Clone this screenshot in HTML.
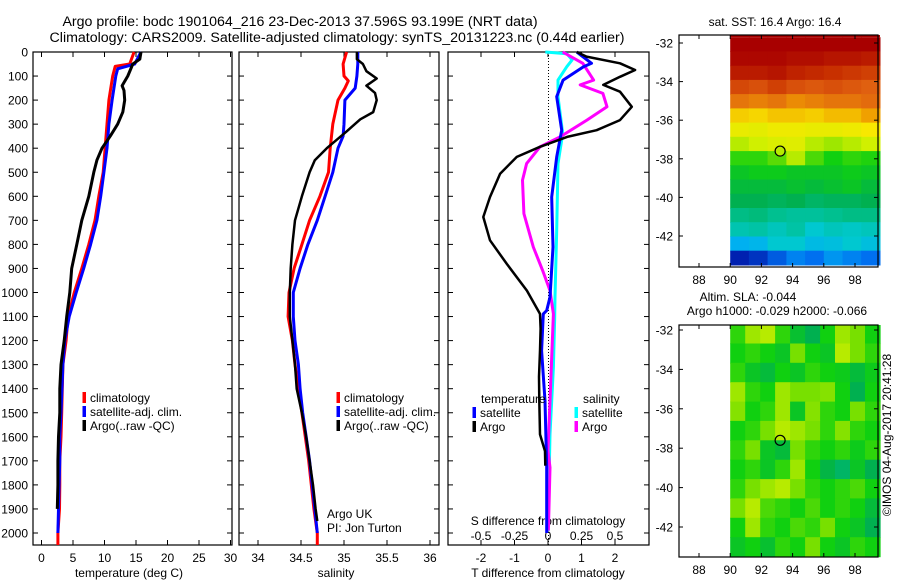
<!DOCTYPE html>
<html><head><meta charset="utf-8">
<style>
html,body{margin:0;padding:0;background:#fff;}
svg{display:block;font-family:"Liberation Sans",sans-serif;}
</style></head>
<body>
<svg id="fig" width="900" height="580" viewBox="0 0 900 580" xmlns="http://www.w3.org/2000/svg"></svg>
<script>
// ---------- data ----------
const depthTicks=[0,100,200,300,400,500,600,700,800,900,1000,1100,1200,1300,1400,1500,1600,1700,1800,1900,2000];
const tempTicks=[0,5,10,15,20,25,30];
const salTicks=[34,34.5,35,35.5,36];
const salTickLabels=["34","34.5","35","35.5","36"];
const tdiffTicks=[-2,-1,0,1,2];
const sdiffTicks=[-0.5,-0.25,0,0.25,0.5];
const sdiffTickLabels=["-0.5","-0.25","0","0.25","0.5"];
const lonTicks=[88,90,92,94,96,98];
const latTicks=[-32,-34,-36,-38,-40,-42];

const climDepth=[0,50,60,100,200,300,400,500,600,700,800,900,1000,1100,1200,1300,1400,1500,1600,1700,1800,1900,2000,2050];
const climTemp=[14.7,14.0,11.7,11.3,10.7,10.4,10.1,9.8,9.1,8.5,7.5,6.4,5.2,4.2,3.9,3.4,3.3,3.2,3.1,2.9,2.9,2.85,2.6,2.6];
const satDepth=[0,50,70,100,200,300,400,500,600,700,800,900,1000,1100,1200,1300,1400,1500,1600,1700,1800,1900,2000];
const satTemp=[15.8,14.8,12.1,11.8,11.2,10.7,10.4,9.9,9.4,8.8,7.8,6.7,5.5,4.4,3.7,3.4,3.25,3.1,2.9,2.9,2.8,2.7,2.6];
const argoTDepth=[0,30,50,100,140,160,200,250,300,350,400,450,500,600,700,800,900,1000,1100,1200,1300,1400,1500,1600,1700,1800,1900];
const argoTemp=[15.8,15.6,14.5,13.7,12.8,13.1,13.2,12.9,12.1,10.9,9.6,8.8,8.3,7.5,6.4,5.6,4.8,4.5,4.0,3.6,3.1,2.9,2.9,2.7,2.6,2.6,2.5];

const climSDepth=[0,50,100,120,150,200,300,400,500,600,700,800,900,1000,1100,1200,1300,1400,1500,1600,1700,1800,1900,2000,2050];
const climSal=[35.03,34.99,35.0,35.05,35.01,34.93,34.87,34.84,34.82,34.72,34.6,34.51,34.42,34.36,34.35,34.4,34.43,34.47,34.51,34.55,34.59,34.62,34.65,34.69,34.69];
const satSDepth=[0,50,100,150,200,300,350,400,500,600,700,800,900,1000,1100,1200,1300,1400,1500,1600,1700,1800,1900,2000];
const satSal=[35.16,35.16,35.15,35.13,35.01,35.0,34.99,34.93,34.87,34.78,34.69,34.58,34.49,34.41,34.41,34.43,34.47,34.49,34.52,34.56,34.6,34.63,34.66,34.69];
const argoSDepth=[0,30,50,80,110,140,170,200,250,280,330,400,450,500,600,700,800,900,1000,1100,1200,1300,1400,1500,1600,1700,1800,1900,1950];
const argoSal=[35.15,35.15,35.22,35.26,35.38,35.26,35.36,35.38,35.34,35.19,35.03,34.8,34.66,34.6,34.51,34.43,34.4,34.38,34.37,34.37,34.4,34.43,34.45,34.51,34.56,34.6,34.64,34.67,34.69];

const dArgoTDepth=[0,19,47,75,103,137,165,228,283,325,353,394,436,506,603,686,783,881,992,1089,1150,1242,1350,1450,1590,1660,1720];
const dArgoT=[0.86,1.15,2.15,2.6,2.15,1.65,2.15,2.5,2.15,1.45,0.57,-0.24,-0.93,-1.43,-1.73,-1.93,-1.73,-1.23,-0.63,-0.24,-0.22,-0.24,-0.27,-0.26,-0.24,-0.09,-0.08];
const dSatTDepth=[0,47,61,117,186,325,436,603,811,1019,1075,1089,1242,1450,1728,2000];
const dSatT=[0.86,1.3,1.06,0.45,0.26,0.41,0.26,0.11,0.15,0.06,-0.04,-0.14,-0.19,-0.09,-0.04,-0.04];
const dArgoSDepth=[0,47,117,137,172,228,283,353,394,464,533,672,811,908,992,1089,1450,1658,1728,1990];
const dArgoS=[0.11,0.26,0.34,0.24,0.41,0.44,0.29,0.09,-0.06,-0.16,-0.19,-0.18,-0.11,-0.04,0.015,0.04,0.015,0.0,0.015,0.003];
const dSatSDepth=[0,7,33,61,117,186,339,464,742,1019,1103,1311,1589,1992];
const dSatS=[-0.02,0.14,0.18,0.14,0.075,0.075,0.11,0.075,0.065,0.052,0.05,0.04,0.015,0.0];

// SST map grid (colour index 0..1), rows north->south, cols 90E->99.6E
const sstGrid=[
[.97,.97,.97,.97,.97,.97,.97,.97],
[.96,.96,.96,.95,.95,.94,.94,.93],
[.93,.93,.94,.92,.91,.9,.89,.88],
[.87,.86,.88,.86,.85,.86,.85,.84],
[.82,.81,.82,.8,.81,.82,.82,.83],
[.73,.72,.74,.74,.73,.75,.75,.78],
[.67,.66,.68,.68,.67,.67,.68,.7],
[.6,.62,.64,.65,.6,.58,.6,.62],
[.5,.5,.53,.6,.52,.48,.5,.49],
[.46,.47,.47,.46,.46,.46,.47,.46],
[.44,.44,.44,.45,.44,.45,.46,.44],
[.42,.42,.41,.42,.4,.41,.41,.42],
[.37,.38,.36,.35,.35,.36,.37,.37],
[.33,.34,.32,.34,.3,.32,.31,.32],
[.25,.26,.3,.3,.27,.28,.3,.28],
[.1,.12,.16,.2,.18,.22,.2,.18]];
// SLA map grid
const slaGrid=[
[.5,.58,.6,.5,.45,.42,.48,.58,.55,.48],
[.48,.5,.48,.46,.55,.48,.46,.6,.55,.5],
[.5,.46,.44,.48,.46,.5,.48,.47,.44,.47],
[.58,.5,.48,.58,.55,.55,.56,.48,.42,.48],
[.56,.48,.5,.58,.46,.56,.5,.48,.55,.5],
[.48,.5,.55,.6,.58,.55,.5,.56,.5,.48],
[.5,.55,.46,.44,.55,.5,.48,.5,.47,.5],
[.48,.5,.46,.5,.58,.48,.43,.4,.46,.42],
[.5,.55,.58,.6,.55,.5,.48,.5,.52,.48],
[.55,.6,.52,.5,.48,.52,.48,.5,.48,.44],
[.48,.58,.5,.48,.52,.5,.55,.48,.46,.42],
[.46,.48,.45,.5,.48,.55,.48,.46,.5,.48]];
const argoLon=93.2, argoLat=-37.6;

// ---------- helpers ----------
const svg=document.getElementById('fig');
const NS='http://www.w3.org/2000/svg';
function mk(tag,attrs,parent){const e=document.createElementNS(NS,tag);for(const k in attrs)e.setAttribute(k,attrs[k]);(parent||svg).appendChild(e);return e;}
function txt(s,x,y,anchor,size,name){const t=mk('text',{x:x,y:y,'text-anchor':anchor||'middle','font-size':size||12,fill:'#000'});t.textContent=s;


return t;}
const yD=d=>52+d*0.2405;
const xT=v=>41.5+v*6.3;
const xS=v=>258+(v-34)*86;
const xTD=v=>548+v*33.5;
const xSD=v=>548+v*134;

function panel(x0,x1,name){const r=mk('rect',{x:x0,y:52,width:x1-x0,height:493,fill:'none',stroke:'#000','stroke-width':1.2});


depthTicks.forEach(d=>{mk('line',{x1:x0,x2:x0+5,y1:yD(d),y2:yD(d),stroke:'#000'});mk('line',{x1:x1,x2:x1-5,y1:yD(d),y2:yD(d),stroke:'#000'});});}
function xticks(vals,fx,labels,ly,name){vals.forEach((v,i)=>{const x=fx(v);mk('line',{x1:x,x2:x,y1:52,y2:57,stroke:'#000'});mk('line',{x1:x,x2:x,y1:545,y2:540,stroke:'#000'});
if(labels)txt(labels[i],x,ly,'middle',12,name);});}
function line(ds,vs,fx,color,w,name){const p=ds.map((d,i)=>(i?'L':'M')+fx(vs[i]).toFixed(1)+' '+yD(d).toFixed(1)).join(' ');
const e=mk('path',{d:p,fill:'none',stroke:color,'stroke-width':w,'stroke-linejoin':'round'});

}
function legEntry(x,y,color,label,name){mk('rect',{x:x-1.5,y:y-6,width:3.5,height:11,fill:color});if(label)txt(label,x+6,y+4,'start',12,name);}

// ---------- titles ----------
txt('Argo profile: bodc 1901064_216 23-Dec-2013 37.596S 93.199E (NRT data)',300,26,'middle',14.2,'title-line-1');
txt('Climatology: CARS2009. Satellite-adjusted climatology: synTS_20131223.nc (0.44d earlier)',337,42,'middle',14.2,'title-line-2');

// ---------- panel 1 temperature ----------
panel(33,232,'temperature-panel');
depthTicks.forEach(d=>txt(String(d),28,yD(d)+4.5,'end',12,'depth-tick-label'));
xticks(tempTicks,xT,tempTicks.map(String),562,'temperature-tick-label');
txt('temperature (deg C)',129,577,'middle',12,'temperature-axis-title');
line(climDepth,climTemp,xT,'#ff0000',3,'temp-climatology-line');
line(satDepth,satTemp,xT,'#0000ff',3,'temp-satellite-line');
line(argoTDepth,argoTemp,xT,'#000000',3,'temp-argo-line');
legEntry(84,398,'#ff0000','climatology','legend-climatology');
legEntry(84,412,'#0000ff','satellite-adj. clim.','legend-satellite');
legEntry(84,426,'#000000','Argo(..raw -QC)','legend-argo');

// ---------- panel 2 salinity ----------
panel(239,439,'salinity-panel');
xticks(salTicks,xS,salTickLabels,562,'salinity-tick-label');
txt('salinity',336,577,'middle',12,'salinity-axis-title');
line(climSDepth,climSal,xS,'#ff0000',3,'sal-climatology-line');
line(satSDepth,satSal,xS,'#0000ff',3,'sal-satellite-line');
line(argoSDepth,argoSal,xS,'#000000',2.5,'sal-argo-line');
legEntry(338,398,'#ff0000','climatology','legend-climatology-2');
legEntry(338,412,'#0000ff','satellite-adj. clim.','legend-satellite-2');
legEntry(338,426,'#000000','Argo(..raw -QC)','legend-argo-2');
txt('Argo UK',327,518,'start',12,'argo-uk-label');
txt('PI: Jon Turton',327,532,'start',12,'pi-label');

// ---------- panel 3 differences ----------
panel(448,649,'difference-panel');
xticks(tdiffTicks,xTD,tdiffTicks.map(String),562,'tdiff-tick-label');
sdiffTicks.forEach((v,i)=>txt(sdiffTickLabels[i],xSD(v),540,'middle',12,'sdiff-tick-label'));
txt('S difference from climatology',548,525,'middle',12,'sdiff-axis-title');
txt('T difference from climatology',548,577,'middle',12,'tdiff-axis-title');
mk('line',{x1:548.5,x2:548.5,y1:52,y2:545,stroke:'#000','stroke-dasharray':'1 2'});
line(dSatSDepth,dSatS,xSD,'#00ffff',3,'sdiff-satellite-line');
line(dArgoSDepth,dArgoS,xSD,'#ff00ff',3,'sdiff-argo-line');
line(dSatTDepth,dSatT,xTD,'#0000ff',3,'tdiff-satellite-line');
line(dArgoTDepth,dArgoT,xTD,'#000000',2.5,'tdiff-argo-line');
txt('temperature',481,403,'start',12,'legend-temperature-heading');
legEntry(474,413,'#0000ff','satellite','legend-tdiff-satellite');
legEntry(474,427,'#000000','Argo','legend-tdiff-argo');
txt('salinity',583,403,'start',12,'legend-salinity-heading');
legEntry(576,413,'#00ffff','satellite','legend-sdiff-satellite');
legEntry(576,427,'#ff00ff','Argo','legend-sdiff-argo');

// ---------- colour map ----------
const cstops=[[0,[0,0,128]],[0.1,[0,32,176]],[0.18,[0,112,240]],[0.25,[0,176,240]],[0.3,[0,200,208]],[0.36,[0,192,144]],[0.42,[0,176,80]],[0.48,[16,208,16]],[0.55,[120,224,0]],[0.62,[208,240,0]],[0.7,[248,232,0]],[0.78,[240,160,0]],[0.84,[224,96,16]],[0.9,[200,48,0]],[0.97,[168,0,0]],[1,[160,0,0]]];
function cmap(v){for(let i=1;i<cstops.length;i++){if(v<=cstops[i][0]){const a=cstops[i-1],b=cstops[i];const t=(v-a[0])/(b[0]-a[0]);return 'rgb('+a[1].map((c,k)=>Math.round(c+(b[1][k]-c)*t)).join(',')+')';}}return 'rgb(160,0,0)';}

function map(top,bot,lat32y,pxLat,grid,name,filled){
  const xL=v=>699+(v-88)*15.6, yL=v=>lat32y+(-32-v)*pxLat;
  const g=mk('g',{});
  
  
  const lonA=90,lonB=99.6,latA=-31.7,latB=-43.5;
  const nr=grid.length,nc=grid[0].length;
  grid.forEach((row,r)=>row.forEach((v,c)=>{
    const x0=xL(lonA+(lonB-lonA)*c/nc),x1=xL(lonA+(lonB-lonA)*(c+1)/nc);
    const y0=Math.max(top,yL(latA+(latB-latA)*r/nr)),y1=Math.min(bot,yL(latA+(latB-latA)*(r+1)/nr));
    const cell=mk('rect',{x:x0.toFixed(1),y:y0.toFixed(1),width:(x1-x0+0.6).toFixed(1),height:(y1-y0+0.6).toFixed(1),fill:cmap(v)},g);
    
    
  }));
  mk('rect',{x:xL(lonA),y:top,width:xL(lonB)-xL(lonA),height:Math.max(0,yL(latA)-top),fill:cmap(grid[0][0])},g);
  mk('rect',{x:679,y:top,width:199,height:bot-top,fill:'none',stroke:'#000','stroke-width':1.2});
  lonTicks.forEach(v=>{const x=xL(v);mk('line',{x1:x,x2:x,y1:top,y2:top+4,stroke:'#000'});mk('line',{x1:x,x2:x,y1:bot,y2:bot-4,stroke:'#000'});txt(String(v),x,bot+17,'middle',12,'lon-tick-label');});
  latTicks.forEach(v=>{const y=yL(v);mk('line',{x1:679,x2:683,y1:y,y2:y,stroke:'#000'});mk('line',{x1:878,x2:874,y1:y,y2:y,stroke:'#000'});txt(String(v),673,y+4.5,'end',12,'lat-tick-label');});
  const c=mk('circle',{cx:xL(argoLon),cy:yL(argoLat),r:5,fill:filled?cmap(0.6):'none',stroke:'#000','stroke-width':1.2});
  
  
}
map(35,267,43,19.3,sstGrid,'sst-map',true);
txt('sat. SST: 16.4 Argo: 16.4',775,26,'middle',12,'sst-map-title');
map(325,557,330,19.7,slaGrid,'sla-map',false);
txt('Altim. SLA: -0.044',748,301,'middle',12,'sla-map-title');
txt('Argo h1000: -0.029 h2000: -0.066',777,315,'middle',12,'sla-argo-heights');
const cr=txt('©IMOS 04-Aug-2017 20:41:28',0,0,'middle',12,'imos-credit');
cr.setAttribute('transform','translate(891,435) rotate(-90)');
</script>
</body></html>
